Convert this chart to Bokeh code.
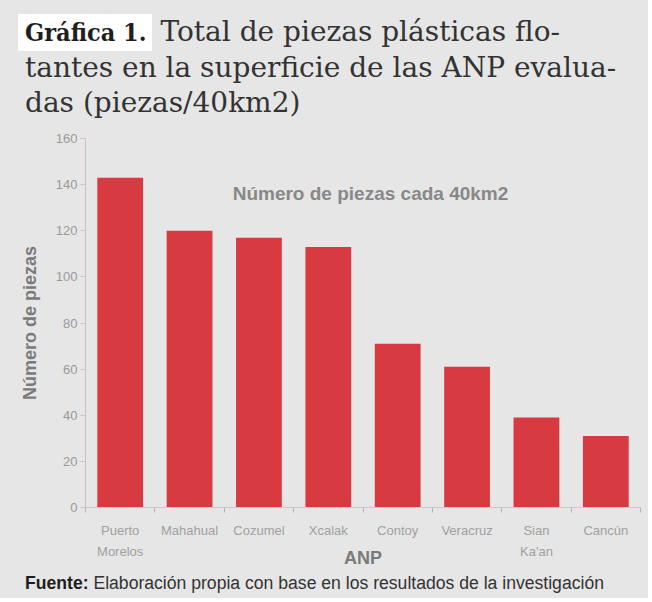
from bokeh.plotting import figure
from bokeh.models import FixedTicker, Label, Div
from bokeh.layouts import column
from bokeh.embed import file_html
from bokeh.resources import INLINE

categories = ["Puerto\nMorelos", "Mahahual", "Cozumel", "Xcalak", "Contoy",
              "Veracruz", "Sian\nKa'an", "Cancún"]
values = [143, 120, 117, 113, 71, 61, 39, 31]
y_ticks = [0, 20, 40, 60, 80, 100, 120, 140, 160]

title_bold = "Gráfica 1."
title_lines = ["Total de piezas plásticas flo-",
               "tantes en la superficie de las ANP evalua-",
               "das (piezas/40km2)"]
note = "Número de piezas cada 40km2"
source_bold = "Fuente:"
source_text = "Elaboración propia con base en los resultados de la investigación"

BG = "#e6e6e6"
BAR = "#d83a42"

W = 648
TH = 125          # title strip height
MH = 445          # main chart height
FH = 28           # footer strip height
FL, FR, FT, FB = 85, 640, 13, 382   # main frame inside main figure

n = len(categories)
xs = list(range(1, n + 1))

# ---- title (HTML)
title_html = (
    '<div style="padding:14px 0 0 25px; line-height:35px; font-family:\'DejaVu Serif\';'
    ' font-size:28px; color:#333333; white-space:nowrap;">'
    '<span style="font-family:\'DejaVu Serif Condensed\',\'DejaVu Serif\'; font-stretch:condensed;'
    ' font-weight:bold; font-size:25px; color:#1e1e1e; background:#ffffff;'
    ' padding:4px 5px 4px 7px; margin-left:-7px;">' + title_bold + '</span> '
    + title_lines[0] + '<br>' + title_lines[1] + '<br>' + title_lines[2] + '</div>'
)
t = Div(text=title_html, width=W, height=TH, margin=0,
        styles={"background-color": BG, "overflow": "hidden"})

# ---- main chart
p = figure(width=W, height=MH, output_backend="svg", toolbar_location=None,
           x_range=(0.5, n + 0.5), y_range=(0, 160),
           min_border_left=FL, min_border_right=W - FR,
           min_border_top=FT, min_border_bottom=MH - FB)
p.background_fill_color = BG
p.border_fill_color = BG
p.outline_line_color = None
p.grid.visible = False

p.vbar(x=xs, top=values, width=0.66, fill_color=BAR, line_color=None)

ya = p.yaxis[0]
ya.ticker = FixedTicker(ticks=y_ticks)
ya.axis_line_color = "#d9bcbc"
ya.major_tick_line_color = "#d9bcbc"
ya.major_tick_out = 5
ya.major_tick_in = 0
ya.minor_tick_line_color = None
ya.major_label_text_color = "#9a9a9a"
ya.major_label_text_font = "Liberation Sans"
ya.major_label_text_font_size = "13px"
ya.major_label_standoff = 3
ya.axis_label = "Número de piezas"
ya.axis_label_text_font = "Liberation Sans"
ya.axis_label_text_font_style = "bold"
ya.axis_label_text_font_size = "18px"
ya.axis_label_text_color = "#7a7a7a"
ya.axis_label_standoff = 13

xa = p.xaxis[0]
xa.ticker = FixedTicker(ticks=xs, minor_ticks=[i + 0.5 for i in range(n + 1)])
xa.major_label_overrides = {x: c for x, c in zip(xs, categories)}
xa.axis_line_color = "#c9c9c9"
xa.major_tick_line_color = None
xa.minor_tick_line_color = "#b5b5b5"
xa.minor_tick_out = 5
xa.minor_tick_in = 0
xa.major_label_text_color = "#a0a0a0"
xa.major_label_text_font = "Liberation Sans"
xa.major_label_text_font_size = "13px"
xa.major_label_text_line_height = 1.4
xa.major_label_standoff = 9
xa.axis_label = "ANP"
xa.axis_label_text_font = "Liberation Sans"
xa.axis_label_text_font_style = "bold"
xa.axis_label_text_font_size = "18px"
xa.axis_label_text_color = "#7a7a7a"
xa.axis_label_standoff = -14

nx = 0.5 + (370 - FL) / (FR - FL) * n
ny = (FB - (193 - TH)) / (FB - FT) * 160
p.add_layout(Label(x=nx, y=ny, text=note, text_font="Liberation Sans",
                   text_font_style="bold", text_font_size="19px", text_color="#888888",
                   text_align="center", text_baseline="alphabetic"))

# ---- footer (HTML)
foot_html = (
    '<div style="padding:3px 0 0 25px; line-height:20px; font-family:\'Liberation Sans\';'
    ' font-size:17.6px; color:#333333; white-space:nowrap;">'
    '<b style="color:#1e1e1e;">' + source_bold + '</b> ' + source_text + '</div>'
)
s = Div(text=foot_html, width=W, height=FH, margin=0,
        styles={"background-color": BG, "overflow": "hidden"})

layout = column(t, p, s, spacing=0, styles={"background-color": BG})
open("out.html", "w").write(file_html(layout, INLINE))
